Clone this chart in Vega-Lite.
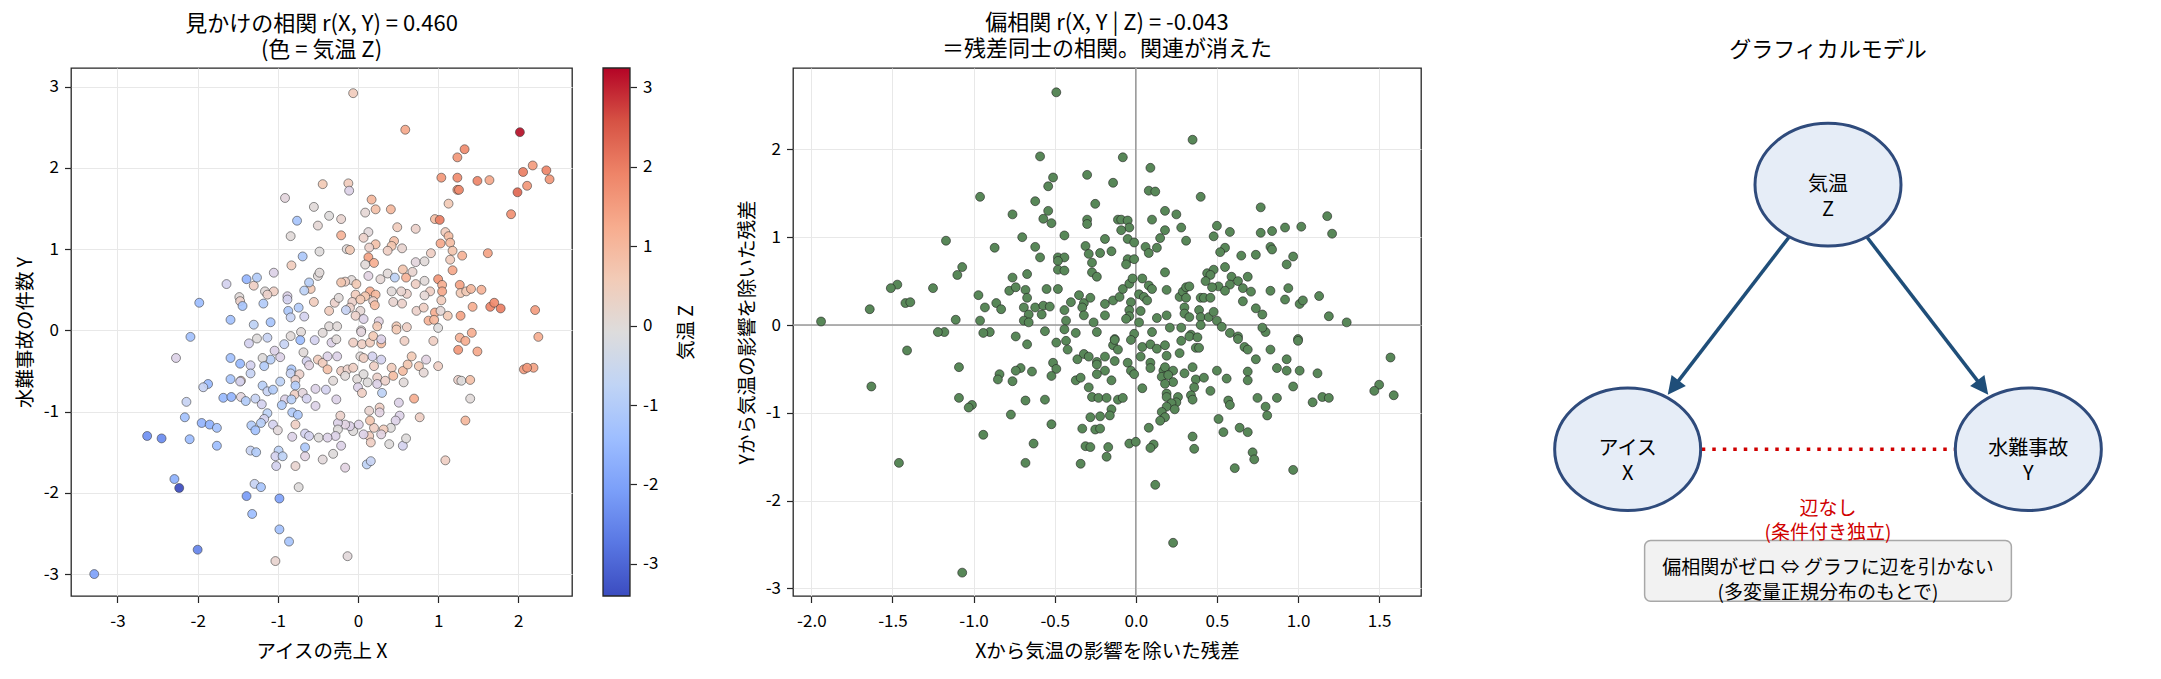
{
  "$schema": "https://vega.github.io/schema/vega-lite/v6.json",
  "padding": {"left": 14, "top": 11, "right": 5, "bottom": 5},
  "background": "white",
  "config": {
    "font": "Noto Sans CJK JP",
    "view": {"stroke": null},
    "title": {"fontSize": 22, "fontWeight": "normal", "color": "#000000", "lineHeight": 26, "offset": 6, "frame": "group"},
    "axis": {
      "labelFontSize": 17, "labelColor": "#000000", "titleFontSize": 19.5, "titleFontWeight": "normal", "titleColor": "#000000",
      "tickColor": "#262626", "tickSize": 6.5, "tickWidth": 1.2, "domain": false,
      "gridColor": "#e8e8e8", "gridWidth": 1, "labelPadding": 6, "titlePadding": 8
    },
    "axisX": {"labelPadding": 11, "titlePadding": 13}
  },
  "bounds": "flush",
  "spacing": 31,
  "hconcat": [
    {
      "width": 501, "height": 528,
      "title": {"text": ["見かけの相関 r(X, Y) = 0.460", "(色 = 気温 Z)"]},
      "view": {"stroke": "#262626", "strokeWidth": 1.3},
      "data": {"values": [
        {"x":-0.06,"y":2.92,"z":0.5},{"x":0.59,"y":2.47,"z":1.3},{"x":2.02,"y":2.44,"z":3.2},{"x":1.33,"y":2.23,"z":1.8},{"x":1.24,"y":2.13,"z":1.6},{"x":2.18,"y":2.03,"z":1.5},{"x":2.06,"y":1.95,"z":2.0},{"x":2.11,"y":1.78,"z":1.6},{"x":1.99,"y":1.70,"z":2.3},{"x":1.04,"y":1.88,"z":1.6},{"x":1.24,"y":1.88,"z":1.8},{"x":1.49,"y":1.84,"z":1.9},{"x":1.64,"y":1.85,"z":1.3},{"x":1.24,"y":1.73,"z":1.6},{"x":1.26,"y":1.73,"z":1.8},{"x":1.13,"y":1.56,"z":0.6},{"x":1.91,"y":1.43,"z":1.7},{"x":0.96,"y":1.37,"z":0.9},{"x":1.02,"y":1.36,"z":2.0},{"x":1.09,"y":1.21,"z":0.5},{"x":1.13,"y":1.16,"z":0.9},{"x":1.03,"y":1.07,"z":1.3},{"x":1.15,"y":1.08,"z":0.9},{"x":1.30,"y":0.92,"z":1.1},{"x":1.62,"y":0.95,"z":1.4},{"x":1.18,"y":0.98,"z":0.7},{"x":1.15,"y":0.87,"z":0.5},{"x":1.18,"y":0.74,"z":1.3},{"x":1.00,"y":0.63,"z":1.6},{"x":1.05,"y":0.56,"z":1.2},{"x":1.27,"y":0.56,"z":1.4},{"x":1.05,"y":0.48,"z":1.3},{"x":1.28,"y":0.46,"z":0.6},{"x":1.35,"y":0.48,"z":0.6},{"x":1.41,"y":0.51,"z":1.0},{"x":1.54,"y":0.50,"z":1.1},{"x":1.04,"y":0.37,"z":0.5},{"x":1.43,"y":0.29,"z":1.2},{"x":1.65,"y":0.29,"z":1.9},{"x":1.70,"y":0.34,"z":1.8},{"x":1.78,"y":0.27,"z":2.0},{"x":2.21,"y":0.25,"z":1.5},{"x":1.28,"y":0.18,"z":1.4},{"x":1.12,"y":0.18,"z":0.6},{"x":0.96,"y":0.22,"z":1.2},{"x":0.88,"y":0.12,"z":1.1},{"x":1.03,"y":0.24,"z":0.1},
        {"x":2.35,"y":1.97,"z":1.9},{"x":2.39,"y":1.86,"z":1.6},{"x":2.25,"y":-0.08,"z":1.2},{"x":2.19,"y":-0.46,"z":1.4},
        {"x":-0.91,"y":1.63,"z":-0.3},{"x":-0.44,"y":1.80,"z":0.6},{"x":-0.12,"y":1.81,"z":0.5},{"x":-0.11,"y":1.72,"z":-0.5},{"x":-0.55,"y":1.52,"z":0.0},{"x":-0.76,"y":1.35,"z":-1.2},{"x":-0.36,"y":1.41,"z":-0.1},{"x":-0.21,"y":1.37,"z":0.2},{"x":-0.50,"y":1.29,"z":0.1},{"x":-0.84,"y":1.16,"z":0.0},{"x":0.17,"y":1.61,"z":1.0},{"x":0.22,"y":1.49,"z":0.8},{"x":0.41,"y":1.49,"z":1.0},{"x":0.09,"y":1.45,"z":0.1},{"x":0.49,"y":1.27,"z":0.5},{"x":0.72,"y":1.25,"z":0.3},{"x":0.13,"y":1.21,"z":-0.2},{"x":0.07,"y":1.14,"z":0.3},{"x":-0.21,"y":1.17,"z":1.1},{"x":0.45,"y":1.10,"z":0.8},{"x":0.22,"y":1.06,"z":0.8},{"x":0.42,"y":1.04,"z":0.7},{"x":0.55,"y":1.01,"z":0.2},{"x":0.37,"y":0.98,"z":0.4},{"x":0.14,"y":1.02,"z":0.3},{"x":-0.14,"y":1.00,"z":0.0},{"x":-0.10,"y":0.99,"z":0.6},{"x":-0.48,"y":0.97,"z":-0.1},{"x":-0.69,"y":0.91,"z":-1.1},{"x":0.13,"y":0.90,"z":1.4},{"x":0.20,"y":0.83,"z":1.2},{"x":0.09,"y":0.81,"z":0.0},{"x":-0.83,"y":0.80,"z":0.5},{"x":0.56,"y":0.75,"z":0.7},{"x":0.72,"y":0.84,"z":-0.3},{"x":0.83,"y":0.85,"z":0.0},{"x":0.91,"y":0.95,"z":0.4},{"x":0.37,"y":0.70,"z":0.0},{"x":0.28,"y":0.63,"z":0.1},{"x":0.13,"y":0.67,"z":-0.4},{"x":-0.08,"y":0.62,"z":0.0},{"x":-0.16,"y":0.60,"z":0.4},{"x":-0.21,"y":0.59,"z":0.7},{"x":-0.02,"y":0.57,"z":0.6},{"x":0.46,"y":0.65,"z":-0.8},{"x":0.60,"y":0.65,"z":1.1},{"x":0.68,"y":0.72,"z":0.2},{"x":0.83,"y":0.61,"z":0.0},{"x":0.72,"y":0.57,"z":0.4},{"x":0.90,"y":0.48,"z":0.4},{"x":0.83,"y":0.43,"z":0.1},{"x":0.61,"y":0.45,"z":0.3},{"x":0.54,"y":0.48,"z":0.2},{"x":0.42,"y":0.48,"z":0.0},{"x":0.44,"y":0.35,"z":0.2},{"x":0.55,"y":0.33,"z":0.3},{"x":0.15,"y":0.48,"z":1.2},{"x":0.09,"y":0.42,"z":0.7},{"x":0.22,"y":0.44,"z":1.0},{"x":0.19,"y":0.36,"z":0.3},{"x":0.21,"y":0.31,"z":0.9},{"x":-0.03,"y":0.44,"z":0.5},{"x":-0.07,"y":0.35,"z":0.3},{"x":0.03,"y":0.38,"z":0.6},{"x":0.03,"y":0.24,"z":0.1},{"x":-0.10,"y":0.28,"z":0.3},{"x":-0.03,"y":0.18,"z":0.3},{"x":-0.15,"y":0.25,"z":-0.7},{"x":-0.29,"y":0.34,"z":0.3},{"x":-0.24,"y":0.40,"z":0.0},{"x":-0.36,"y":0.24,"z":0.5},{"x":-0.55,"y":0.35,"z":0.5},{"x":-0.59,"y":0.51,"z":0.6},{"x":-0.50,"y":0.67,"z":0.0},{"x":-0.48,"y":0.71,"z":0.0},{"x":-0.61,"y":0.59,"z":-0.9},{"x":-0.67,"y":0.49,"z":-0.8},{"x":-0.74,"y":0.28,"z":-1.0},{"x":-0.88,"y":0.42,"z":-0.5},{"x":-0.88,"y":0.38,"z":-0.6},{"x":-0.87,"y":0.24,"z":-1.1},{"x":-0.84,"y":0.16,"z":-0.7},{"x":-0.67,"y":0.17,"z":-0.6},{"x":-1.05,"y":0.71,"z":-0.5},{"x":-1.05,"y":0.48,"z":0.4},{"x":-1.16,"y":0.48,"z":0.0},{"x":-1.13,"y":0.44,"z":0.3},{"x":-1.18,"y":0.33,"z":-1.0},{"x":-1.09,"y":0.10,"z":-1.2},{"x":-1.30,"y":0.55,"z":0.4},{"x":-1.39,"y":0.63,"z":-1.6},{"x":-1.26,"y":0.65,"z":-1.0},{"x":-1.48,"y":0.41,"z":0.0},{"x":-1.47,"y":0.36,"z":0.3},{"x":-1.44,"y":0.30,"z":-1.2},{"x":-1.64,"y":0.57,"z":-0.6},{"x":-1.59,"y":0.13,"z":-1.3},{"x":-1.30,"y":0.07,"z":-0.8},{"x":-1.98,"y":0.34,"z":-1.4},{"x":-0.36,"y":0.05,"z":0.0},{"x":-0.26,"y":0.05,"z":0.0},{"x":0.07,"y":0.14,"z":-0.5},{"x":0.26,"y":0.11,"z":-0.4},{"x":0.48,"y":0.05,"z":0.6},{"x":0.61,"y":0.04,"z":0.4},{"x":0.73,"y":0.24,"z":0.3},{"x":0.24,"y":0.05,"z":0.6},{"x":0.04,"y":0.00,"z":-0.2},{"x":0.82,"y":0.28,"z":0.4},{"x":0.95,"y":0.13,"z":1.0},{"x":1.00,"y":0.03,"z":-0.1},
        {"x":-2.09,"y":-0.08,"z":-1.3},{"x":-2.27,"y":-0.34,"z":-0.5},{"x":-1.59,"y":-0.34,"z":-1.3},{"x":-1.47,"y":-0.41,"z":-1.5},{"x":-1.36,"y":-0.16,"z":-0.6},{"x":-1.26,"y":-0.10,"z":-0.1},{"x":-1.13,"y":-0.09,"z":-0.7},{"x":-1.04,"y":-0.25,"z":-0.5},{"x":-0.92,"y":-0.17,"z":-0.7},{"x":-0.84,"y":-0.07,"z":0.0},{"x":-0.71,"y":-0.02,"z":0.0},{"x":-0.72,"y":-0.12,"z":-1.4},{"x":-0.97,"y":-0.33,"z":-0.5},{"x":-1.09,"y":-0.36,"z":-0.9},{"x":-1.19,"y":-0.34,"z":-0.1},{"x":-1.17,"y":-0.44,"z":-1.0},{"x":-1.34,"y":-0.43,"z":-0.6},{"x":-1.34,"y":-0.53,"z":-0.7},{"x":-1.46,"y":-0.62,"z":0.4},{"x":-1.47,"y":-0.63,"z":-0.6},{"x":-1.59,"y":-0.60,"z":-1.2},{"x":-1.87,"y":-0.66,"z":-1.5},{"x":-1.93,"y":-0.70,"z":-0.7},{"x":-2.14,"y":-0.88,"z":-0.7},{"x":-2.16,"y":-1.07,"z":-1.3},{"x":-2.10,"y":-1.34,"z":-1.4},{"x":-1.95,"y":-1.14,"z":-1.6},{"x":-1.85,"y":-1.16,"z":-1.7},{"x":-1.76,"y":-1.20,"z":-1.3},{"x":-1.76,"y":-1.42,"z":-1.4},{"x":-2.63,"y":-1.30,"z":-2.3},{"x":-2.45,"y":-1.33,"z":-2.4},{"x":-2.29,"y":-1.83,"z":-1.7},{"x":-2.23,"y":-1.94,"z":-3.4},{"x":-2.00,"y":-2.70,"z":-2.5},{"x":-3.29,"y":-3.00,"z":-2.0},{"x":-1.68,"y":-0.83,"z":-1.5},{"x":-1.58,"y":-0.82,"z":-1.6},{"x":-1.46,"y":-0.82,"z":-0.3},{"x":-1.40,"y":-0.87,"z":-1.0},{"x":-1.28,"y":-0.84,"z":-0.7},{"x":-1.19,"y":-0.68,"z":-0.9},{"x":-1.13,"y":-0.75,"z":-0.7},{"x":-1.06,"y":-0.73,"z":-1.0},{"x":-0.97,"y":-0.63,"z":-0.8},{"x":-0.83,"y":-0.48,"z":-1.1},{"x":-0.84,"y":-0.53,"z":-0.7},{"x":-0.73,"y":-0.54,"z":0.3},{"x":-0.78,"y":-0.61,"z":0.3},{"x":-0.78,"y":-0.68,"z":-1.0},{"x":-0.79,"y":-0.79,"z":0.4},{"x":-0.91,"y":-0.85,"z":-0.5},{"x":-0.83,"y":-0.85,"z":-0.9},{"x":-0.95,"y":-0.92,"z":-1.0},{"x":-1.20,"y":-0.91,"z":-0.6},{"x":-1.13,"y":-1.02,"z":-0.8},{"x":-1.17,"y":-1.09,"z":-0.6},{"x":-1.21,"y":-1.14,"z":-0.9},{"x":-1.33,"y":-1.17,"z":-1.0},{"x":-1.28,"y":-1.23,"z":-1.3},{"x":-1.06,"y":-1.16,"z":-0.6},{"x":-1.00,"y":-1.23,"z":-0.2},{"x":-0.82,"y":-1.01,"z":-1.0},{"x":-0.75,"y":-1.04,"z":-1.1},{"x":-0.78,"y":-1.16,"z":0.4},{"x":-0.82,"y":-1.31,"z":-0.5},{"x":-0.66,"y":-1.27,"z":-0.6},{"x":-0.61,"y":-1.30,"z":-0.6},{"x":-0.49,"y":-1.32,"z":-0.1},{"x":-0.69,"y":-0.77,"z":-0.3},{"x":-0.64,"y":-0.84,"z":-0.6},{"x":-0.53,"y":-0.72,"z":-0.5},{"x":-0.40,"y":-0.73,"z":-0.6},{"x":-0.53,"y":-0.93,"z":-0.5},{"x":-0.68,"y":-0.27,"z":0.0},{"x":-0.64,"y":-0.38,"z":-0.6},{"x":-0.61,"y":-0.43,"z":-0.4},{"x":-0.54,"y":-0.12,"z":-0.6},{"x":-0.44,"y":-0.03,"z":0.0},{"x":-0.50,"y":-0.36,"z":0.5},{"x":-0.44,"y":-0.40,"z":0.5},{"x":-0.38,"y":-0.48,"z":0.8},{"x":-0.38,"y":-0.32,"z":-0.5},{"x":-0.33,"y":-0.15,"z":-0.5},{"x":-0.27,"y":-0.11,"z":0.0},{"x":-0.26,"y":-0.32,"z":-0.5},{"x":-0.31,"y":-0.62,"z":0.0},{"x":-0.27,"y":-0.85,"z":-0.5},{"x":-0.21,"y":-0.50,"z":0.4},{"x":-0.13,"y":-0.48,"z":0.3},{"x":-0.06,"y":-0.46,"z":0.4},{"x":-0.16,"y":-0.56,"z":0.0},{"x":-0.01,"y":-0.60,"z":0.0},{"x":0.00,"y":-0.70,"z":-0.5},{"x":0.05,"y":-0.77,"z":0.4},{"x":0.12,"y":-0.64,"z":-0.1},{"x":0.07,"y":-0.54,"z":-0.1},{"x":0.03,"y":-0.32,"z":0.0},{"x":0.05,"y":-0.17,"z":0.4},{"x":-0.06,"y":-0.15,"z":0.4},{"x":0.04,"y":-0.02,"z":-0.3},{"x":0.15,"y":-0.15,"z":0.5},{"x":0.19,"y":-0.07,"z":0.6},{"x":0.29,"y":-0.16,"z":0.9},{"x":0.29,"y":-0.11,"z":-0.5},{"x":0.18,"y":-0.32,"z":-0.6},{"x":0.07,"y":-0.34,"z":0.4},{"x":0.29,"y":-0.36,"z":-0.6},{"x":0.20,"y":-0.44,"z":0.4},{"x":0.24,"y":-0.58,"z":0.3},{"x":0.24,"y":-0.66,"z":-0.5},{"x":0.30,"y":-0.77,"z":-0.8},{"x":0.34,"y":-0.62,"z":0.3},{"x":0.42,"y":-0.46,"z":0.5},{"x":0.44,"y":-0.56,"z":0.9},{"x":0.48,"y":0.01,"z":0.6},{"x":0.58,"y":-0.13,"z":0.4},{"x":0.56,"y":-0.50,"z":0.9},{"x":0.57,"y":-0.64,"z":0.0},{"x":0.62,"y":-0.42,"z":0.7},{"x":0.67,"y":-0.32,"z":0.6},{"x":0.76,"y":-0.44,"z":0.6},{"x":0.82,"y":-0.52,"z":0.1},{"x":0.85,"y":-0.36,"z":-0.4},{"x":0.94,"y":-0.13,"z":0.4},{"x":1.00,"y":-0.44,"z":0.4},{"x":0.70,"y":-0.84,"z":1.2},{"x":0.77,"y":-1.07,"z":0.4},{"x":0.51,"y":-0.89,"z":-0.5},{"x":0.52,"y":-1.05,"z":-0.5},{"x":0.47,"y":-1.11,"z":-0.5},{"x":0.41,"y":-1.20,"z":-0.1},{"x":0.32,"y":-1.22,"z":0.5},{"x":0.20,"y":-1.20,"z":0.4},{"x":0.15,"y":-1.11,"z":0.7},{"x":0.14,"y":-0.99,"z":0.2},{"x":0.27,"y":-0.95,"z":0.4},{"x":0.27,"y":-1.01,"z":-0.4},{"x":0.29,"y":-1.28,"z":-0.4},{"x":0.14,"y":-1.30,"z":0.5},{"x":0.16,"y":-1.38,"z":0.4},{"x":0.07,"y":-1.28,"z":-0.5},{"x":0.01,"y":-1.16,"z":-0.5},{"x":-0.06,"y":-1.24,"z":-0.1},{"x":-0.10,"y":-1.18,"z":-0.5},{"x":-0.16,"y":-1.16,"z":-0.4},{"x":-0.25,"y":-1.14,"z":-0.5},{"x":-0.22,"y":-1.05,"z":0.3},{"x":-0.25,"y":-1.22,"z":-0.1},{"x":-0.28,"y":-1.30,"z":-0.5},{"x":-0.38,"y":-1.32,"z":-0.5},{"x":-0.21,"y":-1.42,"z":-0.5},{"x":-0.31,"y":-1.52,"z":-0.1},{"x":-0.16,"y":-1.69,"z":-0.4},{"x":0.11,"y":-1.65,"z":-0.8},{"x":0.16,"y":-1.61,"z":-0.7},{"x":0.39,"y":-1.40,"z":-0.1},{"x":0.56,"y":-1.42,"z":-0.6},{"x":0.60,"y":-1.33,"z":-0.1},{"x":1.09,"y":-1.60,"z":0.4},{"x":1.34,"y":-1.11,"z":1.0},{"x":1.25,"y":-0.61,"z":0.3},{"x":1.29,"y":-0.62,"z":-0.1},{"x":1.40,"y":-0.61,"z":0.8},{"x":1.40,"y":-0.84,"z":0.0},{"x":1.25,"y":-0.24,"z":1.6},{"x":1.27,"y":-0.09,"z":1.1},{"x":1.34,"y":-0.13,"z":1.2},{"x":1.42,"y":-0.03,"z":1.2},{"x":1.49,"y":-0.26,"z":1.3},{"x":2.07,"y":-0.48,"z":1.5},{"x":2.11,"y":-0.46,"z":1.6},{"x":-0.44,"y":-1.59,"z":-0.2},{"x":-0.66,"y":-1.55,"z":-0.4},{"x":-0.66,"y":-1.44,"z":-1.1},{"x":-0.78,"y":-1.67,"z":0.2},{"x":-0.74,"y":-1.93,"z":-0.1},{"x":-0.99,"y":-1.48,"z":-0.8},{"x":-1.03,"y":-1.55,"z":-0.6},{"x":-0.94,"y":-1.55,"z":-0.8},{"x":-1.02,"y":-1.67,"z":-0.6},{"x":-1.34,"y":-1.48,"z":-0.7},{"x":-1.27,"y":-1.50,"z":-1.0},{"x":-1.29,"y":-1.89,"z":-0.7},{"x":-1.21,"y":-1.93,"z":-1.2},{"x":-1.39,"y":-2.04,"z":-2.1},{"x":-1.32,"y":-2.26,"z":-1.4},{"x":-0.98,"y":-2.07,"z":-2.0},{"x":-0.98,"y":-2.45,"z":-1.3},{"x":-0.86,"y":-2.60,"z":-1.2},{"x":-1.03,"y":-2.84,"z":0.2},{"x":-0.13,"y":-2.78,"z":-0.2}
      ]},
      "mark": {"type": "circle", "size": 80, "opacity": 0.92, "stroke": "#333333", "strokeWidth": 0.6},
      "encoding": {
        "x": {"field": "x", "type": "quantitative", "scale": {"domain": [-3.58, 2.67], "nice": false, "zero": false},
              "axis": {"values": [-3, -2, -1, 0, 1, 2], "format": "d", "title": "アイスの売上 X", "labelExpr": "replace(datum.label, '−', '-')"}},
        "y": {"field": "y", "type": "quantitative", "scale": {"domain": [-3.27, 3.23], "nice": false, "zero": false},
              "axis": {"values": [-3, -2, -1, 0, 1, 2, 3], "format": "d", "title": "水難事故の件数 Y", "labelExpr": "replace(datum.label, '−', '-')"}},
        "color": {"field": "z", "type": "quantitative",
                  "scale": {"domain": [-3.404, -2.739, -2.074, -1.410, -0.745, -0.080, 0.585, 1.249, 1.914, 2.579, 3.244],
                            "range": ["#3b4cc0", "#5977e3", "#7b9ff9", "#9ebeff", "#c0d4f5", "#dddcdc", "#f2cbb7", "#f7ac8e", "#ee8468", "#d65244", "#b40426"]},
                  "legend": null}
      }
    },
    {
      "width": 27, "height": 528,
      "data": {"values": [{"lo": -3.404, "hi": 3.244}]},
      "mark": {"type": "rect", "stroke": "#262626", "strokeWidth": 1.3,
               "fill": {"gradient": "linear", "x1": 0, "y1": 1, "x2": 0, "y2": 0,
                        "stops": [{"offset": 0, "color": "#3b4cc0"}, {"offset": 0.1, "color": "#5977e3"}, {"offset": 0.2, "color": "#7b9ff9"}, {"offset": 0.3, "color": "#9ebeff"}, {"offset": 0.4, "color": "#c0d4f5"}, {"offset": 0.5, "color": "#dddcdc"}, {"offset": 0.6, "color": "#f2cbb7"}, {"offset": 0.7, "color": "#f7ac8e"}, {"offset": 0.8, "color": "#ee8468"}, {"offset": 0.9, "color": "#d65244"}, {"offset": 1, "color": "#b40426"}]}},
      "encoding": {
        "x": {"datum": 0, "type": "quantitative", "scale": {"domain": [0, 1]}, "axis": null},
        "x2": {"datum": 1},
        "y": {"field": "lo", "type": "quantitative", "scale": {"domain": [-3.404, 3.244], "nice": false, "zero": false},
              "axis": {"orient": "right", "grid": false, "values": [-3, -2, -1, 0, 1, 2, 3], "format": "d", "title": "気温 Z", "titleAngle": 270, "titleBaseline": "top", "titlePadding": 20, "labelExpr": "replace(datum.label, '−', '-')"}},
        "y2": {"field": "hi"}
      }
    },
    {
      "width": 101, "height": 528,
      "data": {"values": []},
      "mark": {"type": "point", "opacity": 0},
      "encoding": {}
    },
    {
      "width": 628, "height": 528,
      "title": {"text": ["偏相関 r(X, Y | Z) = -0.043", "＝残差同士の相関。関連が消えた"]},
      "view": {"stroke": "#262626", "strokeWidth": 1.3},
      "layer": [
        {
          "data": {"values": [{"v": 0}]},
          "mark": {"type": "rule", "color": "#999999", "strokeWidth": 1.5},
          "encoding": {"x": {"field": "v", "type": "quantitative", "title": "Xから気温の影響を除いた残差", "scale": {"domain": [-2.113, 1.758], "nice": false, "zero": false}}}
        },
        {
          "data": {"values": [{"v": 0}]},
          "mark": {"type": "rule", "color": "#999999", "strokeWidth": 1.5},
          "encoding": {"y": {"field": "v", "type": "quantitative", "title": "Yから気温の影響を除いた残差", "scale": {"domain": [-3.086, 2.927], "nice": false, "zero": false}}}
        },
        {
          "data": {"values": [
            {"x":-0.49,"y":2.65},{"x":0.35,"y":2.11},{"x":-0.59,"y":1.92},{"x":-0.08,"y":1.91},{"x":0.09,"y":1.79},{"x":-0.51,"y":1.68},{"x":-0.54,"y":1.58},{"x":-0.30,"y":1.71},{"x":-0.14,"y":1.62},{"x":-0.96,"y":1.46},{"x":0.08,"y":1.53},{"x":0.12,"y":1.52},{"x":0.40,"y":1.46},{"x":-0.62,"y":1.41},{"x":-0.25,"y":1.38},{"x":0.77,"y":1.34},{"x":-0.76,"y":1.26},{"x":-0.54,"y":1.30},{"x":-0.57,"y":1.21},{"x":-0.52,"y":1.16},{"x":-0.30,"y":1.20},{"x":-0.30,"y":1.15},{"x":0.18,"y":1.30},{"x":0.25,"y":1.26},{"x":1.18,"y":1.24},{"x":-0.11,"y":1.20},{"x":-0.09,"y":1.20},{"x":-0.05,"y":1.19},{"x":0.10,"y":1.20},{"x":-0.04,"y":1.11},{"x":-0.09,"y":1.08},{"x":0.18,"y":1.08},{"x":0.28,"y":1.11},{"x":0.50,"y":1.13},{"x":0.58,"y":1.06},{"x":0.77,"y":1.05},{"x":0.84,"y":1.07},{"x":0.92,"y":1.11},{"x":1.02,"y":1.12},{"x":1.21,"y":1.04},{"x":0.48,"y":1.01},{"x":-0.44,"y":1.02},{"x":-0.70,"y":1.00},{"x":-1.17,"y":0.96},{"x":-0.19,"y":0.98},{"x":-0.05,"y":0.98},{"x":-0.01,"y":0.94},{"x":0.15,"y":0.99},{"x":0.31,"y":0.96},{"x":-0.62,"y":0.89},{"x":-0.87,"y":0.88},{"x":-0.31,"y":0.90},{"x":-0.29,"y":0.81},{"x":-0.22,"y":0.82},{"x":-0.15,"y":0.84},{"x":0.06,"y":0.89},{"x":0.13,"y":0.88},{"x":0.08,"y":0.82},{"x":0.55,"y":0.88},{"x":0.52,"y":0.83},{"x":0.83,"y":0.89},{"x":0.84,"y":0.86},{"x":0.65,"y":0.79},{"x":0.74,"y":0.80},{"x":0.97,"y":0.78},{"x":0.93,"y":0.69},{"x":-0.59,"y":0.77},{"x":-0.48,"y":0.77},{"x":-0.44,"y":0.77},{"x":-0.48,"y":0.73},{"x":-0.48,"y":0.63},{"x":-0.44,"y":0.62},{"x":-0.27,"y":0.71},{"x":-0.27,"y":0.60},{"x":-0.24,"y":0.55},{"x":-0.05,"y":0.75},{"x":-0.01,"y":0.75},{"x":-0.06,"y":0.69},{"x":-1.07,"y":0.66},{"x":-1.10,"y":0.57},{"x":-0.67,"y":0.58},{"x":-0.76,"y":0.54},{"x":0.18,"y":0.60},{"x":0.44,"y":0.59},{"x":0.48,"y":0.63},{"x":0.55,"y":0.66},{"x":0.46,"y":0.57},{"x":0.43,"y":0.50},{"x":0.59,"y":0.55},{"x":0.69,"y":0.55},{"x":0.63,"y":0.50},{"x":0.58,"y":0.46},{"x":0.66,"y":0.42},{"x":0.71,"y":0.38},{"x":0.51,"y":0.44},{"x":0.55,"y":0.39},{"x":0.47,"y":0.43},{"x":0.83,"y":0.39},{"x":0.94,"y":0.42},{"x":0.92,"y":0.29},{"x":1.01,"y":0.24},{"x":1.03,"y":0.28},{"x":1.13,"y":0.33},{"x":0.66,"y":0.27},{"x":0.74,"y":0.19},{"x":0.78,"y":0.12},{"x":1.19,"y":0.10},{"x":1.30,"y":0.03},{"x":-1.47,"y":0.46},{"x":-1.51,"y":0.42},{"x":-1.25,"y":0.42},{"x":-1.42,"y":0.25},{"x":-1.39,"y":0.26},{"x":-1.64,"y":0.18},{"x":-1.94,"y":0.04},{"x":-1.11,"y":0.06},{"x":-0.96,"y":0.05},{"x":-0.97,"y":0.34},{"x":-0.93,"y":0.20},{"x":-0.86,"y":0.25},{"x":-0.83,"y":0.18},{"x":-0.78,"y":0.39},{"x":-0.74,"y":0.43},{"x":-0.68,"y":0.40},{"x":-0.67,"y":0.31},{"x":-0.55,"y":0.41},{"x":-0.48,"y":0.41},{"x":-0.69,"y":0.20},{"x":-0.62,"y":0.20},{"x":-0.57,"y":0.22},{"x":-0.53,"y":0.21},{"x":-0.66,"y":0.12},{"x":-0.58,"y":0.12},{"x":-0.69,"y":0.05},{"x":-0.66,"y":0.03},{"x":-0.44,"y":0.17},{"x":-0.43,"y":0.05},{"x":-0.40,"y":0.26},{"x":-0.35,"y":0.34},{"x":-0.32,"y":0.25},{"x":-0.33,"y":0.20},{"x":-0.28,"y":0.31},{"x":-0.32,"y":0.11},{"x":-0.26,"y":0.03},{"x":-0.19,"y":0.24},{"x":-0.19,"y":0.11},{"x":-0.14,"y":0.28},{"x":-0.10,"y":0.32},{"x":-0.08,"y":0.41},{"x":-0.04,"y":0.47},{"x":-0.02,"y":0.53},{"x":0.04,"y":0.53},{"x":0.08,"y":0.45},{"x":0.10,"y":0.41},{"x":0.02,"y":0.35},{"x":0.05,"y":0.32},{"x":0.07,"y":0.28},{"x":-0.03,"y":0.26},{"x":-0.04,"y":0.17},{"x":0.03,"y":0.16},{"x":-0.04,"y":0.10},{"x":-0.06,"y":0.07},{"x":0.02,"y":0.03},{"x":0.13,"y":0.08},{"x":0.19,"y":0.11},{"x":0.19,"y":0.40},{"x":0.27,"y":0.32},{"x":0.29,"y":0.38},{"x":0.31,"y":0.43},{"x":0.33,"y":0.44},{"x":0.31,"y":0.31},{"x":0.30,"y":0.20},{"x":0.30,"y":0.13},{"x":0.33,"y":0.09},{"x":0.39,"y":0.17},{"x":0.40,"y":0.31},{"x":0.42,"y":0.31},{"x":0.46,"y":0.31},{"x":0.40,"y":0.09},{"x":0.45,"y":0.09},{"x":0.48,"y":0.15},{"x":0.50,"y":0.05},{"x":0.40,"y":0.00},{"x":0.53,"y":-0.02},{"x":0.21,"y":-0.03},{"x":0.28,"y":-0.03},{"x":0.10,"y":-0.08},{"x":-0.01,"y":-0.10},{"x":-0.13,"y":-0.16},{"x":-0.24,"y":-0.08},{"x":-0.37,"y":-0.09},{"x":-0.44,"y":-0.05},{"x":-0.56,"y":-0.07},{"x":-0.74,"y":-0.13},{"x":-0.90,"y":-0.08},{"x":-0.94,"y":-0.09},{"x":-1.18,"y":-0.08},{"x":-1.22,"y":-0.08},{"x":0.80,"y":-0.08},{"x":0.78,"y":-0.03},{"x":0.58,"y":-0.09},{"x":0.63,"y":-0.13},{"x":0.34,"y":-0.11},{"x":1.00,"y":-0.16},
            {"x":-1.41,"y":-0.29},{"x":-1.63,"y":-0.70},{"x":-1.09,"y":-0.48},{"x":-1.09,"y":-0.83},{"x":-1.01,"y":-0.91},{"x":-1.03,"y":-0.94},{"x":-1.46,"y":-1.57},{"x":-0.94,"y":-1.25},{"x":-1.07,"y":-2.82},{"x":-0.67,"y":-0.22},{"x":-0.49,"y":-0.20},{"x":-0.43,"y":-0.18},{"x":-0.42,"y":-0.28},{"x":-0.71,"y":-0.49},{"x":-0.74,"y":-0.52},{"x":-0.84,"y":-0.56},{"x":-0.85,"y":-0.62},{"x":-0.76,"y":-0.64},{"x":-0.64,"y":-0.53},{"x":-0.51,"y":-0.43},{"x":-0.49,"y":-0.50},{"x":-0.52,"y":-0.58},{"x":-0.68,"y":-0.86},{"x":-0.56,"y":-0.85},{"x":-0.77,"y":-1.02},{"x":-0.52,"y":-1.13},{"x":-0.63,"y":-1.35},{"x":-0.68,"y":-1.57},{"x":-0.34,"y":-1.58},{"x":-0.36,"y":-0.39},{"x":-0.32,"y":-0.33},{"x":-0.29,"y":-0.36},{"x":-0.24,"y":-0.42},{"x":-0.24,"y":-0.45},{"x":-0.19,"y":-0.36},{"x":-0.19,"y":-0.52},{"x":-0.24,"y":-0.56},{"x":-0.13,"y":-0.41},{"x":-0.14,"y":-0.23},{"x":-0.13,"y":-0.17},{"x":-0.11,"y":-0.28},{"x":-0.37,"y":-0.63},{"x":-0.34,"y":-0.60},{"x":-0.29,"y":-0.71},{"x":-0.27,"y":-0.82},{"x":-0.23,"y":-0.83},{"x":-0.18,"y":-0.83},{"x":-0.15,"y":-0.63},{"x":-0.11,"y":-0.85},{"x":-0.08,"y":-0.83},{"x":-0.15,"y":-0.96},{"x":-0.16,"y":-1.03},{"x":-0.22,"y":-1.04},{"x":-0.28,"y":-1.05},{"x":-0.33,"y":-1.18},{"x":-0.25,"y":-1.19},{"x":-0.22,"y":-1.18},{"x":-0.31,"y":-1.38},{"x":-0.28,"y":-1.39},{"x":-0.17,"y":-1.39},{"x":-0.18,"y":-1.50},{"x":-0.04,"y":-1.35},{"x":0.00,"y":-1.33},{"x":-0.03,"y":-0.17},{"x":-0.05,"y":-0.43},{"x":-0.03,"y":-0.52},{"x":-0.01,"y":-0.56},{"x":0.03,"y":-0.36},{"x":0.04,"y":-0.25},{"x":0.09,"y":-0.22},{"x":0.13,"y":-0.27},{"x":0.18,"y":-0.23},{"x":0.19,"y":-0.35},{"x":0.09,"y":-0.43},{"x":0.09,"y":-0.49},{"x":0.04,"y":-0.72},{"x":0.08,"y":-1.17},{"x":0.11,"y":-1.36},{"x":0.09,"y":-1.40},{"x":0.12,"y":-1.82},{"x":0.23,"y":-2.48},{"x":0.17,"y":-0.52},{"x":0.18,"y":-0.48},{"x":0.23,"y":-0.52},{"x":0.16,"y":-0.59},{"x":0.20,"y":-0.57},{"x":0.23,"y":-0.65},{"x":0.18,"y":-0.67},{"x":0.19,"y":-0.78},{"x":0.19,"y":-0.82},{"x":0.26,"y":-0.82},{"x":0.25,"y":-0.88},{"x":0.22,"y":-0.89},{"x":0.19,"y":-0.93},{"x":0.24,"y":-0.96},{"x":0.16,"y":-0.99},{"x":0.18,"y":-1.05},{"x":0.15,"y":-1.09},{"x":0.27,"y":-0.32},{"x":0.28,"y":-0.18},{"x":0.33,"y":-0.13},{"x":0.38,"y":-0.14},{"x":0.37,"y":-0.26},{"x":0.39,"y":-0.26},{"x":0.35,"y":-0.48},{"x":0.30,"y":-0.55},{"x":0.37,"y":-0.62},{"x":0.42,"y":-0.60},{"x":0.36,"y":-0.71},{"x":0.34,"y":-0.80},{"x":0.35,"y":-0.85},{"x":0.46,"y":-0.75},{"x":0.50,"y":-0.52},{"x":0.56,"y":-0.61},{"x":0.35,"y":-1.27},{"x":0.36,"y":-1.41},{"x":0.51,"y":-1.07},{"x":0.54,"y":-1.22},{"x":0.64,"y":-1.17},{"x":0.69,"y":-1.22},{"x":0.72,"y":-1.45},{"x":0.73,"y":-1.53},{"x":0.61,"y":-1.63},{"x":0.57,"y":-0.86},{"x":0.58,"y":-0.91},{"x":0.63,"y":-0.16},{"x":0.67,"y":-0.25},{"x":0.69,"y":-0.28},{"x":0.74,"y":-0.39},{"x":0.69,"y":-0.53},{"x":0.69,"y":-0.63},{"x":0.75,"y":-0.83},{"x":0.80,"y":-0.93},{"x":0.81,"y":-1.03},{"x":0.87,"y":-0.83},{"x":0.87,"y":-0.49},{"x":0.93,"y":-0.52},{"x":0.83,"y":-0.28},{"x":0.93,"y":-0.39},{"x":1.00,"y":-0.18},{"x":1.01,"y":-0.52},{"x":0.97,"y":-0.70},{"x":1.09,"y":-0.88},{"x":1.12,"y":-0.55},{"x":1.15,"y":-0.82},{"x":1.19,"y":-0.83},{"x":0.97,"y":-1.65},{"x":1.57,"y":-0.37},{"x":1.50,"y":-0.68},{"x":1.47,"y":-0.75},{"x":1.59,"y":-0.80}
          ]},
          "mark": {"type": "circle", "size": 80, "opacity": 1, "color": "#588758", "stroke": "#222222", "strokeWidth": 0.6},
          "encoding": {
            "x": {"field": "x", "type": "quantitative", "title": "Xから気温の影響を除いた残差", "scale": {"domain": [-2.113, 1.758], "nice": false, "zero": false},
                  "axis": {"values": [-2, -1.5, -1, -0.5, 0, 0.5, 1, 1.5], "format": ".1f", "labelExpr": "replace(datum.label, '−', '-')"}},
            "y": {"field": "y", "type": "quantitative", "title": "Yから気温の影響を除いた残差", "scale": {"domain": [-3.086, 2.927], "nice": false, "zero": false},
                  "axis": {"values": [-3, -2, -1, 0, 1, 2], "format": "d", "labelExpr": "replace(datum.label, '−', '-')"}}
          }
        }
      ]
    },
    {
      "width": 31, "height": 528,
      "data": {"values": []},
      "mark": {"type": "point", "opacity": 0},
      "encoding": {}
    },
    {
      "width": 628, "height": 528,
      "title": {"text": "グラフィカルモデル"},
      "encoding": {
        "x": {"field": "x", "type": "quantitative", "scale": {"domain": [0, 1]}, "axis": null},
        "y": {"field": "y", "type": "quantitative", "scale": {"domain": [0, 1]}, "axis": null}
      },
      "layer": [
        {
          "data": {"values": [{"x": 0.4375, "y": 0.679, "x2": 0.2545, "y2": 0.396}, {"x": 0.5625, "y": 0.679, "x2": 0.7455, "y2": 0.396}]},
          "mark": {"type": "rule", "color": "#1f4e79", "strokeWidth": 3.5},
          "encoding": {"x2": {"field": "x2"}, "y2": {"field": "y2"}}
        },
        {
          "data": {"values": [{"x": 0.2448, "y": 0.381, "a": 217.6}, {"x": 0.7552, "y": 0.381, "a": 142.4}]},
          "mark": {"type": "point", "shape": "M0,0L-0.5,1L0.5,1Z", "filled": true, "size": 1296, "color": "#1f4e79", "opacity": 1},
          "encoding": {"angle": {"field": "a", "type": "quantitative", "scale": null}}
        },
        {
          "data": {"values": [{"x": 0.299, "y": 0.278, "x2": 0.701}]},
          "mark": {"type": "rule", "color": "#d00000", "strokeWidth": 3.5, "strokeDash": [3.5, 7]},
          "encoding": {"x2": {"field": "x2"}}
        },
        {
          "data": {"values": [{"x": 0.5, "y": 0.779, "t": "気温\nZ"}, {"x": 0.181, "y": 0.278, "t": "アイス\nX"}, {"x": 0.819, "y": 0.278, "t": "水難事故\nY"}]},
          "layer": [
            {"mark": {"type": "point", "shape": "M-1,0C-1,-0.4639,-0.5523,-0.84,0,-0.84C0.5523,-0.84,1,-0.4639,1,0C1,0.4639,0.5523,0.84,0,0.84C-0.5523,0.84,-1,0.4639,-1,0Z",
                      "filled": true, "size": 21316, "fill": "#e6edf7", "stroke": "#2f4b7c", "strokeWidth": 3, "opacity": 1}},
            {"mark": {"type": "text", "fontSize": 20, "lineHeight": 25, "lineBreak": "\n", "baseline": "middle", "color": "#000000"},
             "encoding": {"text": {"field": "t"}}}
          ]
        },
        {
          "data": {"values": [{"x": 0.208, "x2": 0.792, "y": 0.105, "y2": -0.01}]},
          "mark": {"type": "rect", "fill": "#f2f2f2", "stroke": "#a8a8a8", "strokeWidth": 1.5, "cornerRadius": 6, "clip": false},
          "encoding": {"x2": {"field": "x2"}, "y2": {"field": "y2"}}
        },
        {
          "data": {"values": [{"x": 0.5, "y": 0.165, "t": "辺なし\n(条件付き独立)"}]},
          "mark": {"type": "text", "fontSize": 19, "lineHeight": 24, "lineBreak": "\n", "baseline": "middle", "color": "#d00000"},
          "encoding": {"text": {"field": "t"}}
        },
        {
          "data": {"values": [{"x": 0.5, "y": 0.0526, "t": "偏相関がゼロ ⇔ グラフに辺を引かない\n(多変量正規分布のもとで)"}]},
          "mark": {"type": "text", "fontSize": 19, "lineHeight": 25, "lineBreak": "\n", "baseline": "middle", "color": "#000000"},
          "encoding": {"text": {"field": "t"}}
        }
      ]
    }
  ]
}
